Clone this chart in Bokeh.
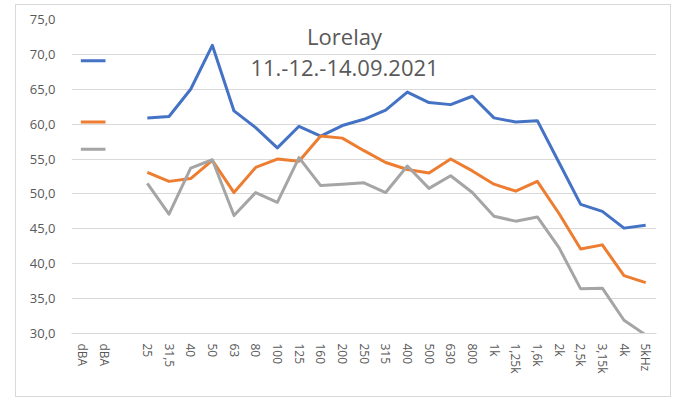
from bokeh.plotting import figure
from bokeh.models import FixedTicker, Label
from bokeh.embed import file_html
from bokeh.resources import INLINE

categories = ["dBA", "dBA", "", "25", "31,5", "40", "50", "63", "80", "100", "125", "160",
              "200", "250", "315", "400", "500", "630", "800", "1k", "1,25k", "1,6k",
              "2k", "2,5k", "3,15k", "4k", "5kHz"]

# overall dBA values (drawn across the two dBA categories)
dba_blue = 69.1
dba_orange = 60.3
dba_gray = 56.4

# band values, 25 Hz .. 5 kHz
blue = [60.9, 61.1, 65.0, 71.3, 61.9, 59.5, 56.6, 59.7, 58.3, 59.8, 60.7,
        62.0, 64.6, 63.1, 62.8, 64.0, 60.9, 60.3, 60.5, 54.5, 48.5, 47.5, 45.1, 45.5]
orange = [53.1, 51.8, 52.2, 54.8, 50.2, 53.8, 55.0, 54.7, 58.3, 58.0, 56.2,
          54.5, 53.5, 53.0, 55.0, 53.3, 51.4, 50.4, 51.8, 47.2, 42.1, 42.7, 38.3, 37.3]
gray = [51.5, 47.1, 53.7, 54.9, 46.9, 50.2, 48.8, 55.2, 51.2, 51.4, 51.6,
        50.2, 54.0, 50.8, 52.6, 50.2, 46.8, 46.1, 46.7, 42.3, 36.4, 36.5, 31.9, 29.8]

y_ticks = [30, 35, 40, 45, 50, 55, 60, 65, 70, 75]
title_lines = ["Lorelay", "11.-12.-14.09.2021"]

C_BLUE = "#4472C4"
C_ORANGE = "#ED7D31"
C_GRAY = "#A5A5A5"
TXT = "#595959"
FONT = "Open Sans"

p = figure(width=656, height=393, output_backend="svg", toolbar_location=None,
           x_range=(-0.5, len(categories) - 0.5), y_range=(30, 75),
           min_border_left=55, min_border_right=16, min_border_top=14, min_border_bottom=65)
p.styles = {"border": "1px solid #d9d9d9", "margin-left": "15px", "margin-top": "4px"}
p.outline_line_color = None
p.background_fill_color = "white"
p.border_fill_color = "white"

xs_band = list(range(3, len(categories)))
p.line(xs_band, blue, line_color=C_BLUE, line_width=3, line_join="round")
p.line(xs_band, orange, line_color=C_ORANGE, line_width=3, line_join="round")
p.line(xs_band, gray, line_color=C_GRAY, line_width=3, line_join="round")

for v, c in [(dba_blue, C_BLUE), (dba_orange, C_ORANGE), (dba_gray, C_GRAY)]:
    p.line([0, 1], [v, v], line_color=c, line_width=3, line_cap="square")

# axes
p.xaxis.ticker = FixedTicker(ticks=list(range(len(categories))))
p.xaxis.major_label_overrides = {i: c for i, c in enumerate(categories)}
p.xaxis.major_label_orientation = "vertical"
p.xaxis.axis_line_color = "#d9d9d9"
p.xaxis.major_tick_line_color = None
p.xaxis.minor_tick_line_color = None
p.xaxis.major_tick_out = 0
p.xaxis.major_label_standoff = 10
p.xaxis.major_label_text_font = FONT
p.xaxis.major_label_text_font_size = "12px"
p.xaxis.major_label_text_color = TXT

p.yaxis.ticker = FixedTicker(ticks=y_ticks)
p.yaxis.major_label_overrides = {t: f"{t:.1f}".replace(".", ",") for t in y_ticks}
p.yaxis.axis_line_color = None
p.yaxis.major_tick_line_color = None
p.yaxis.minor_tick_line_color = None
p.yaxis.major_tick_out = 0
p.yaxis.major_label_standoff = 16
p.yaxis.major_label_text_font = FONT
p.yaxis.major_label_text_font_size = "13px"
p.yaxis.major_label_text_color = TXT

p.xgrid.grid_line_color = None
p.ygrid.grid_line_color = "#d9d9d9"
p.ygrid.grid_line_width = 1

p.add_layout(Label(x=12.1, y=72.6, text=title_lines[0], text_align="center",
                   text_baseline="middle", text_font=FONT, text_font_size="22px",
                   text_color=TXT))
p.add_layout(Label(x=12.1, y=68.1, text=title_lines[1], text_align="center",
                   text_baseline="middle", text_font=FONT, text_font_size="22px",
                   text_color=TXT))

open("out.html", "w").write(file_html(p, INLINE))
